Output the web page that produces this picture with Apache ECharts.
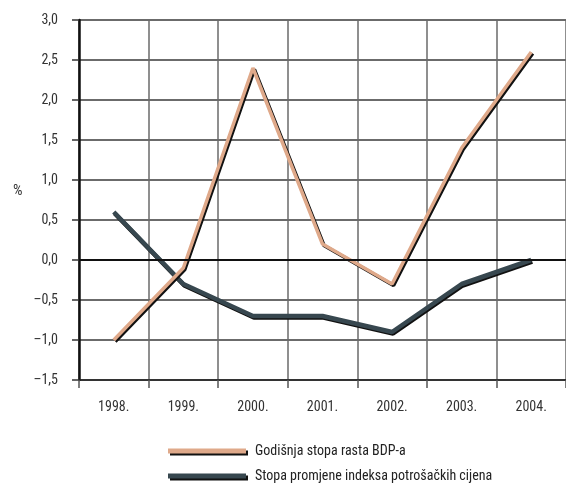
<!DOCTYPE html>
<html>
<head>
<meta charset="utf-8">
<script src="https://cdn.jsdelivr.net/npm/echarts@6/dist/echarts.min.js"></script>
<style>html,body{margin:0;padding:0;background:#fff}#c{width:566px;height:485px}</style>
</head>
<body>
<div id="c"></div>
<script>
var categories = ['1998.', '1999.', '2000.', '2001.', '2002.', '2003.', '2004.'];
var gdpName = 'Godišnja stopa rasta BDP-a';
var cpiName = 'Stopa promjene indeksa potrošačkih cijena';
var gdpValues = [-1.0, -0.1, 2.4, 0.2, -0.3, 1.4, 2.6];
var cpiValues = [0.6, -0.3, -0.7, -0.7, -0.9, -0.3, 0.0];
var yUnit = '%';

var FONT = '"Roboto Condensed", "DejaVu Sans Condensed", sans-serif';
var GDP_COLOR = '#DFA98A';
var CPI_COLOR = '#37474F';
var chart = echarts.init(document.getElementById('c'), null, {renderer: 'canvas'});
function fmt(v) {
  return v.toFixed(1).replace('.', ',').replace('-', '\u2013');
}
function legendFor(name, color, top) {
  return {
    orient: 'vertical', left: 163, top: top,
    itemWidth: 78, itemHeight: 5, icon: 'rect',
    textStyle: {fontFamily: FONT, fontSize: 14, color: '#222', padding: [0, 0, 0, 4]},
    data: [{name: name, itemStyle: {color: color, shadowColor: '#111', shadowOffsetX: 2, shadowOffsetY: 2, shadowBlur: 0}}]
  };
}
chart.setOption({
  animation: false,
  backgroundColor: '#fff',
  textStyle: {fontFamily: FONT},
  grid: {left: 79, top: 20, width: 490, height: 360, containLabel: false},
  graphic: [{type: 'text', left: 13, top: 184, style: {text: yUnit, font: '15px ' + FONT, fill: '#333'}}],
  legend: [legendFor(gdpName, GDP_COLOR, 439), legendFor(cpiName, CPI_COLOR, 464)],
  xAxis: {
    type: 'category', data: categories, boundaryGap: true,
    axisLine: {onZero: false, lineStyle: {color: '#222', width: 1.5}},
    axisTick: {show: true, length: 8, lineStyle: {color: '#555', width: 1.5}},
    axisLabel: {margin: 20, fontSize: 14, color: '#333', fontFamily: FONT},
    splitLine: {show: true, lineStyle: {color: '#6a6a6a', width: 1.5}}
  },
  yAxis: {
    type: 'value', min: -1.5, max: 3, interval: 0.5,
    axisLine: {show: true, lineStyle: {color: '#111', width: 2.5}},
    axisTick: {show: true, length: 7, lineStyle: {color: '#333', width: 1.5}},
    axisLabel: {margin: 21, fontSize: 14, color: '#333', fontFamily: FONT, formatter: fmt},
    splitLine: {show: true, lineStyle: {color: '#3a3a3a', width: 1.5}}
  },
  series: [
    {
      name: cpiName, type: 'line', data: cpiValues, symbol: 'none', z: 3,
      color: CPI_COLOR,
      lineStyle: {color: CPI_COLOR, width: 4.5, shadowColor: '#111', shadowOffsetX: 1, shadowOffsetY: 1.5, shadowBlur: 0},
      markLine: {silent: true, symbol: 'none', label: {show: false},
        lineStyle: {color: '#111', width: 2, type: 'solid'}, data: [{yAxis: 0}]}
    },
    {
      name: gdpName, type: 'line', data: gdpValues, symbol: 'none', z: 4,
      color: GDP_COLOR,
      lineStyle: {color: GDP_COLOR, width: 3.5, shadowColor: '#111', shadowOffsetX: 1.5, shadowOffsetY: 1.5, shadowBlur: 0}
    }
  ]
});
</script>
</body>
</html>
